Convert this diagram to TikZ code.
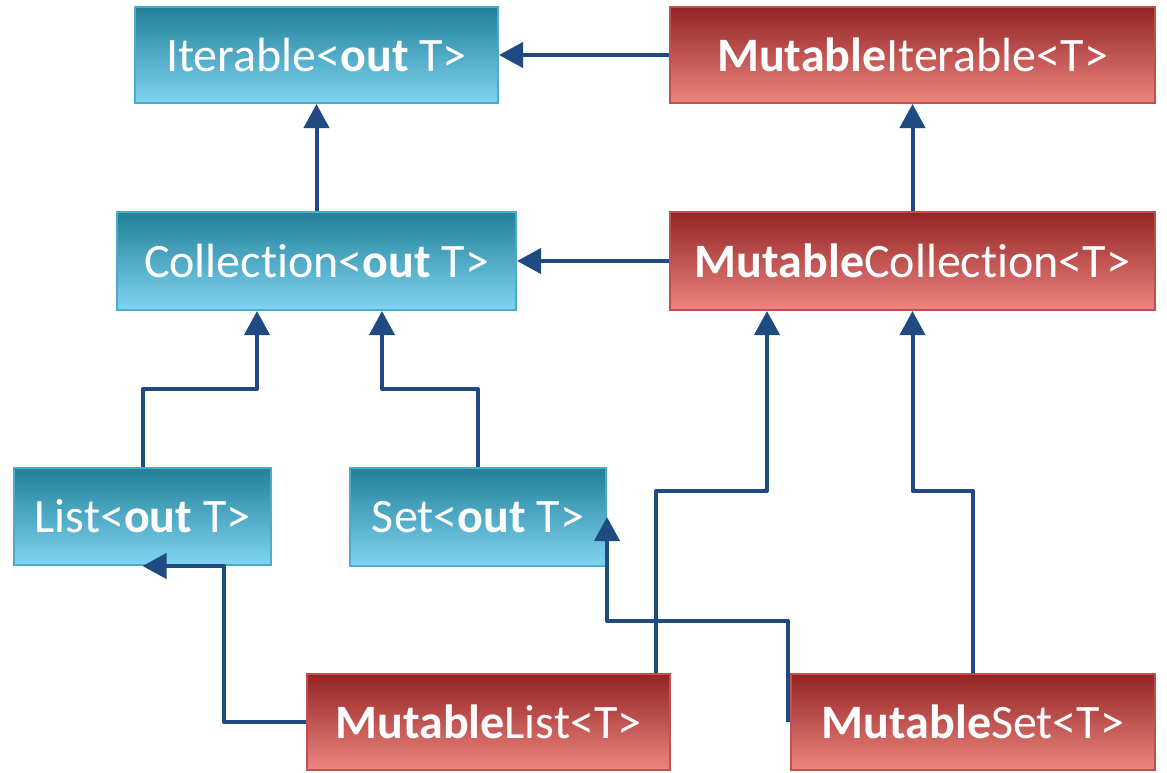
\documentclass[tikz,border=0pt]{standalone}
\usepackage{fontspec}
\setmainfont[Ligatures=NoCommon]{Carlito}
\usetikzlibrary{arrows.meta,calc,shadings,backgrounds}
\definecolor{btop}{RGB}{33,128,152}
\definecolor{bbot}{RGB}{128,212,242}
\definecolor{bline}{RGB}{75,172,198}
\definecolor{rtop}{RGB}{148,36,36}
\definecolor{rbot}{RGB}{236,133,128}
\definecolor{rline}{RGB}{192,80,77}
\definecolor{conn}{RGB}{31,75,130}
\tikzset{
  box/.style={rectangle, line width=2pt, text=white, inner sep=0pt,
    font=\fontsize{48}{57}\selectfont},
  bluebox/.style={box, draw=bline, top color=btop, bottom color=bbot},
  redbox/.style={box, draw=rline, top color=rtop, bottom color=rbot},
  arr/.style={draw=conn, line width=4pt, line join=round,
    -{Triangle[length=24pt,width=25pt]}},
}
\begin{document}
\begin{tikzpicture}[x=1pt,y=-1pt]
\useasboundingbox (0,0) rectangle (1167,772);
\node[bluebox, minimum width=363pt, minimum height=96pt] (it) at (316.5,55) {Iterable<\textbf{out} T>};
\node[redbox, minimum width=485pt, minimum height=96pt] (mi) at (912.5,55) {\textbf{Mutable}Iterable<T>};
\node[bluebox, minimum width=399pt, minimum height=98pt] (col) at (316.5,261) {Collection<\textbf{out} T>};
\node[redbox, minimum width=485pt, minimum height=98pt] (mc) at (912.5,261) {\textbf{Mutable}Collection<T>};
\node[bluebox, minimum width=257pt, minimum height=97pt] (list) at (142.5,516.5) {List<\textbf{out} T>};
\node[bluebox, minimum width=256pt, minimum height=98pt] (set) at (478,517) {Set<\textbf{out} T>};
\node[redbox, minimum width=363pt, minimum height=96pt] (ml) at (488.5,722) {\textbf{Mutable}List<T>};
\node[redbox, minimum width=364pt, minimum height=96pt] (ms) at (973,722) {\textbf{Mutable}Set<T>};
\coordinate (cola) at ($(col.south)+(-59.5,0)$);
\coordinate (colb) at ($(col.south)+(65.5,0)$);
\coordinate (mca) at ($(mc.south)+(-145.5,0)$);
\coordinate (mlt) at ($(ml.north east)+(-15,0)$);
\coordinate (msw) at ($(ms.west)+(-2,0)$);
\begin{scope}[on background layer]
\draw[arr] (mi.west) -- (it.east);
\draw[arr] (col.north) -- (it.south);
\draw[arr] (mc.west) -- (col.east);
\draw[arr] (mc.north) -- (mi.south);
\draw[arr] (list.north) -- ++(0,-78) -| (cola);
\draw[arr] (set.north) -- ++(0,-78) -| (colb);
\draw[arr] (mlt) -- ++(0,-182) -| (mca);
\draw[arr] (ms.north) -- ++(0,-182) -| (mc.south);
\end{scope}
\draw[arr] (ml.west) -- ++(-82,0) |- (list.south);
\draw[arr] (msw) -- ++(0,-101) -| (set.east);
\end{tikzpicture}
\end{document}
